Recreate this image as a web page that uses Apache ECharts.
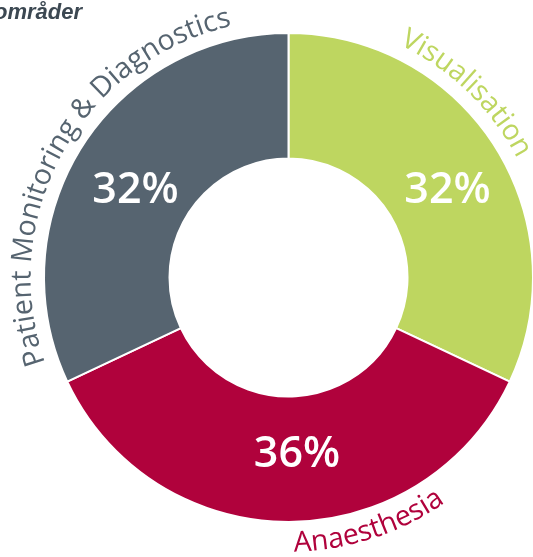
<!DOCTYPE html>
<html><head><meta charset="utf-8">
<script src="https://cdn.jsdelivr.net/npm/echarts@6/dist/echarts.min.js"></script>
<style>html,body{margin:0;padding:0;background:#fff;overflow:hidden}#c{width:533px;height:557px}</style>
</head><body><div id="c"></div>
<script>
// ---- data ----
const categories = ['Visualisation', 'Anaesthesia', 'Patient Monitoring & Diagnostics'];
const shares = [32, 36, 32];
const titleText = 'områder';

// ---- style / layout ----
const colors = ['#bed660', '#b0023c', '#566470'];
const CX = 288.5, CY = 277.5, R_OUT = 244.5, R_IN = 119;
const labelAngleOffsets = [-13.6, -18, -3.4];   // degrees from slice middle
const labelOutward = [true, false, true];
const pctShiftDown = [true, false, true];       // vertical nudge of the inside percentage label
const pctShiftRight = ['w1', 'w2', 'w1'];       // horizontal nudge of the inside percentage label
const ARC_R = 266, ARC_FONT = 28.5;

const chart = echarts.init(document.getElementById('c'), null, { renderer: 'canvas' });

const ctx = document.createElement('canvas').getContext('2d');
function arcText(text, centerDeg, r, fontSize, color, outward) {
  const font = '400 ' + fontSize + 'px "Open Sans"';
  ctx.font = font;
  const rb = outward ? r - 8 : r + 8;
  const total = ctx.measureText(text).width;
  const totalAng = total / rb;
  const c = centerDeg * Math.PI / 180;
  const chars = [...text];
  const els = [];
  let prefix = '';
  chars.forEach((ch) => {
    const w0 = ctx.measureText(prefix).width;
    prefix += ch;
    const w1 = ctx.measureText(prefix).width;
    const mid = (w0 + w1) / 2;
    let a, rot;
    if (outward) { a = c - totalAng / 2 + mid / rb; rot = -a; }
    else { a = c + totalAng / 2 - mid / rb; rot = Math.PI - a; }
    els.push({
      type: 'text', x: CX + r * Math.sin(a), y: CY - r * Math.cos(a), rotation: rot,
      silent: true,
      style: { text: ch, fill: color, font: font, align: 'center', verticalAlign: 'middle' }
    });
  });
  return els;
}

const totalShare = shares.reduce((s, v) => s + v, 0);
let acc = 0;
const graphics = [];
categories.forEach((name, i) => {
  const a0 = acc / totalShare * 360;
  acc += shares[i];
  const a1 = acc / totalShare * 360;
  const mid = (a0 + a1) / 2 + labelAngleOffsets[i];
  graphics.push(...arcText(name, mid, ARC_R, ARC_FONT, colors[i], labelOutward[i]));
});
graphics.push({
  type: 'text', x: 82, y: 13, silent: true,
  style: { text: titleText, fill: '#3c4852', font: 'italic bold 22px "Liberation Sans", Arial, sans-serif', align: 'right', verticalAlign: 'middle' }
});

const richStyles = {
  p: { color: '#ffffff', fontSize: 43, fontWeight: 600, fontFamily: 'Open Sans', lineHeight: 50 },
  gd: { fontSize: 1, lineHeight: 24, color: 'transparent' },
  gu: { fontSize: 1, lineHeight: 16, color: 'transparent' },
  w1: { fontSize: 1, width: 6, color: 'transparent' },
  w2: { fontSize: 1, width: 17, color: 'transparent' }
};

chart.setOption({
  animation: false,
  backgroundColor: '#ffffff',
  graphic: { elements: graphics },
  series: [{
    type: 'pie',
    center: [CX, CY],
    radius: [R_IN, R_OUT],
    startAngle: 90,
    clockwise: true,
    avoidLabelOverlap: false,
    itemStyle: { borderColor: '#ffffff', borderWidth: 2 },
    label: {
      show: true, position: 'inside',
      formatter: (p) => {
        const line = '{' + pctShiftRight[p.dataIndex] + '| }{p|' + p.value + '%}';
        return pctShiftDown[p.dataIndex] ? '{gd| }\n' + line : line + '\n{gu| }';
      },
      rich: richStyles
    },
    labelLine: { show: false },
    emphasis: { disabled: true },
    data: categories.map((n, i) => ({ name: n, value: shares[i], itemStyle: { color: colors[i] } }))
  }]
});
</script></body></html>
